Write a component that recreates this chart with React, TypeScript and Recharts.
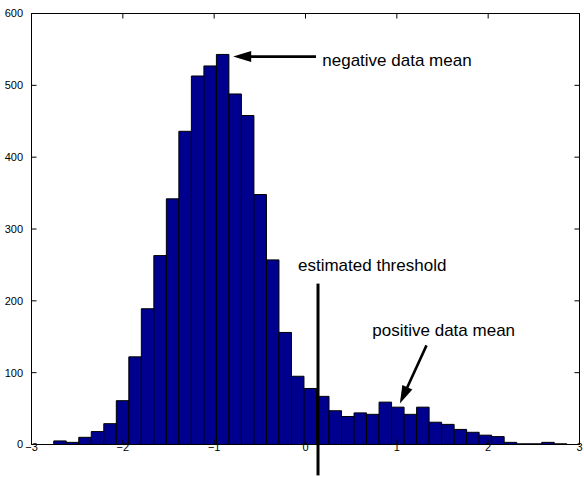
import {
  Bar,
  ComposedChart,
  ReferenceDot,
  ReferenceLine,
  XAxis,
  YAxis,
} from 'recharts';

// bin centres and counts
const binCenters = [
  -2.688, -2.551, -2.414, -2.277, -2.14, -2.003, -1.866, -1.729, -1.592, -1.455,
  -1.318, -1.181, -1.044, -0.907, -0.77, -0.633, -0.496, -0.359, -0.222, -0.085,
  0.052, 0.189, 0.326, 0.463, 0.6, 0.737, 0.874, 1.011, 1.148, 1.285,
  1.422, 1.559, 1.696, 1.833, 1.97, 2.107, 2.244, 2.381, 2.518, 2.655, 2.792,
];
const counts = [
  5, 3, 10, 18, 29, 61, 122, 189, 263, 342,
  436, 513, 527, 543, 488, 458, 348, 257, 156, 95,
  78, 67, 47, 39, 44, 42, 59, 52, 42, 52,
  31, 28, 21, 17, 13, 11, 3, 1, 1, 3, 1,
];
const xTicks = [-3, -2, -1, 0, 1, 2, 3];
const yTicks = [0, 100, 200, 300, 400, 500, 600];

const threshold = 0.137;

const data = binCenters.map((x, i) => ({ x, count: counts[i] }));

const fontFamily = '"Liberation Sans", Arial, Helvetica, sans-serif';
const barFill = '#00008f';

// inward tick length, in data units (about 5px each way)
const xTickLen = 0.055;
const yTickLen = 7;

const fmtTick = (v: number) => (v < 0 ? `\u2212${Math.abs(v)}` : `${v}`);

function Arrow(props: any) {
  const { x1, y1, x2, y2 } = props;
  const dx = x2 - x1;
  const dy = y2 - y1;
  const len = Math.sqrt(dx * dx + dy * dy) || 1;
  const ux = dx / len;
  const uy = dy / len;
  const headLen = 18;
  const headHalf = 5.5;
  const bx = x2 - ux * headLen;
  const by = y2 - uy * headLen;
  const px = -uy * headHalf;
  const py = ux * headHalf;
  return (
    <g>
      <line x1={x1} y1={y1} x2={bx + ux * 2} y2={by + uy * 2} stroke="#000" strokeWidth={2.6} />
      <polygon
        points={`${x2},${y2} ${bx + px},${by + py} ${bx - px},${by - py}`}
        fill="#000"
      />
    </g>
  );
}

function Note(text: string) {
  return (props: any) => (
    <text
      x={props.cx}
      y={props.cy}
      fontSize={17}
      fontFamily={fontFamily}
      fill="#000"
      textAnchor="start"
    >
      {text}
    </text>
  );
}

export default function App() {
  return (
    <div style={{ position: 'absolute', left: 0, top: 0, width: 584, height: 477, background: '#fff' }}>
      <ComposedChart
        width={584}
        height={477}
        data={data}
        margin={{ top: 13.5, right: 4.5, bottom: 0, left: 0 }}
        barCategoryGap={0}
        barGap={0}
      >
        <XAxis
          dataKey="x"
          type="number"
          domain={[-3, 3]}
          ticks={xTicks}
          allowDataOverflow
          height={32.5}
          tickSize={-5}
          tickMargin={4}
          tickLine={false}
          axisLine={false}
          tickFormatter={fmtTick}
          tick={{ fontSize: 11, fill: '#000', fontFamily }}
        />
        <YAxis
          type="number"
          domain={[0, 600]}
          ticks={yTicks}
          width={31.5}
          tickSize={-5}
          tickMargin={13.5}
          tickLine={false}
          axisLine={false}
          tick={{ fontSize: 11, fill: '#000', fontFamily }}
        />
        <Bar
          dataKey="count"
          fill={barFill}
          stroke="#000"
          strokeWidth={1}
          barSize={12.5}
          isAnimationActive={false}
        />
        {/* axes box */}
        <ReferenceLine y={0} stroke="#000" ifOverflow="visible" />
        <ReferenceLine y={600} stroke="#000" ifOverflow="visible" />
        <ReferenceLine x={-3} stroke="#000" ifOverflow="visible" />
        <ReferenceLine x={3} stroke="#000" ifOverflow="visible" />
        {xTicks.map((t) => (
          <ReferenceLine
            key={`xb${t}`}
            segment={[
              { x: t, y: 0 },
              { x: t, y: yTickLen },
            ]}
            stroke="#000"
            ifOverflow="visible"
          />
        ))}
        {xTicks.map((t) => (
          <ReferenceLine
            key={`xt${t}`}
            segment={[
              { x: t, y: 600 },
              { x: t, y: 600 - yTickLen },
            ]}
            stroke="#000"
            ifOverflow="visible"
          />
        ))}
        {yTicks.map((t) => (
          <ReferenceLine
            key={`yl${t}`}
            segment={[
              { x: -3, y: t },
              { x: -3 + xTickLen, y: t },
            ]}
            stroke="#000"
            ifOverflow="visible"
          />
        ))}
        {yTicks.map((t) => (
          <ReferenceLine
            key={`yr${t}`}
            segment={[
              { x: 3, y: t },
              { x: 3 - xTickLen, y: t },
            ]}
            stroke="#000"
            ifOverflow="visible"
          />
        ))}
        <ReferenceLine
          segment={[
            { x: threshold, y: 224 },
            { x: threshold, y: -43 },
          ]}
          stroke="#000"
          strokeWidth={3}
          ifOverflow="visible"
        />
        <ReferenceLine
          segment={[
            { x: 0.115, y: 540 },
            { x: -0.792, y: 540 },
          ]}
          shape={Arrow}
          ifOverflow="visible"
        />
        <ReferenceLine
          segment={[
            { x: 1.325, y: 138 },
            { x: 1.033, y: 57 },
          ]}
          shape={Arrow}
          ifOverflow="visible"
        />
        <ReferenceDot x={0.184} y={527} r={0} shape={Note('negative data mean')} ifOverflow="visible" />
        <ReferenceDot x={-0.082} y={242} r={0} shape={Note('estimated threshold')} ifOverflow="visible" />
        <ReferenceDot x={0.732} y={151} r={0} shape={Note('positive data mean')} ifOverflow="visible" />
      </ComposedChart>
    </div>
  );
}
